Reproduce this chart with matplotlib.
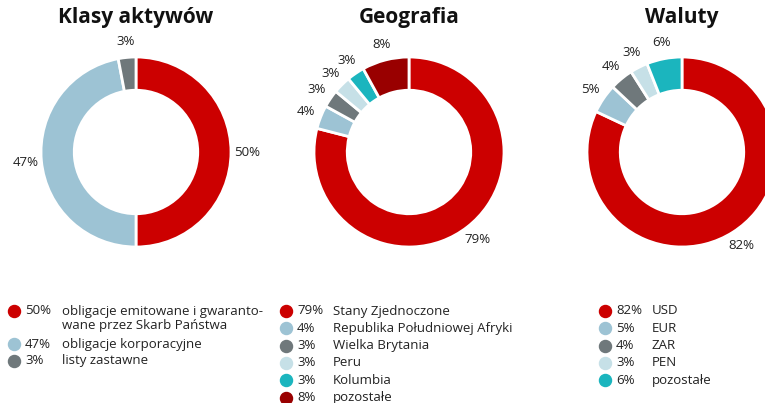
import matplotlib.pyplot as plt

plt.rcParams['font.family'] = ['Open Sans', 'DejaVu Sans']

W, H = 765, 403

# data
titles = ['Klasy aktywów', 'Geografia', 'Waluty']

klasy_vals = [50, 47, 3]
klasy_labels = ['obligacje emitowane i gwaranto-\nwane przez Skarb Państwa',
                'obligacje korporacyjne', 'listy zastawne']
klasy_colors = ['#cc0000', '#9dc3d4', '#6f787b']

geo_vals = [79, 4, 3, 3, 3, 8]
geo_labels = ['Stany Zjednoczone', 'Republika Południowej Afryki', 'Wielka Brytania',
              'Peru', 'Kolumbia', 'pozostałe']
geo_colors = ['#cc0000', '#9dc3d4', '#6f787b', '#c6e0e7', '#1bb5be', '#990000']

wal_vals = [82, 5, 4, 3, 6]
wal_labels = ['USD', 'EUR', 'ZAR', 'PEN', 'pozostałe']
wal_colors = ['#cc0000', '#9dc3d4', '#6f787b', '#c6e0e7', '#1bb5be']

charts = [(klasy_vals, klasy_labels, klasy_colors),
          (geo_vals, geo_labels, geo_colors),
          (wal_vals, wal_labels, wal_colors)]

centers_x = [136, 409, 682]
cy = 152
R = 95
legend_x = [14, 286, 605]
legend_top = 311

fig = plt.figure(figsize=(W / 100, H / 100), dpi=100)
over = fig.add_axes([0, 0, 1, 1])
over.set_xlim(0, W)
over.set_ylim(H, 0)
over.axis('off')

for i, (vals, labels, colors) in enumerate(charts):
    cx = centers_x[i]
    ax = fig.add_axes([(cx - R) / W, (H - cy - R) / H, 2 * R / W, 2 * R / H])
    ax.pie(vals, colors=colors, startangle=90, counterclock=False, radius=1,
           labels=[f'{v}%' for v in vals], labeldistance=1.17,
           textprops=dict(fontsize=9.5, color='#222222', ha='center', va='center'),
           wedgeprops=dict(width=0.35, edgecolor='white', linewidth=2))
    for t in ax.texts:
        t.set_ha('center')
    ax.set_xlim(-1, 1)
    ax.set_ylim(-1, 1)
    ax.set_aspect('equal')

    over.text(cx, 18, titles[i], ha='center', va='center', fontsize=15,
              fontweight='bold', color='#111111')

    lx = legend_x[i]
    step = 16.6 if i == 0 else 17.3
    y = legend_top
    pct_w = 37 if i == 0 else 36
    for v, lab, col in zip(vals, labels, colors):
        over.scatter(lx, y, s=75, color=col, zorder=3, clip_on=False)
        over.text(lx + 11, y, f'{v}%', ha='left', va='center', fontsize=9.5, color='#222222')
        over.text(lx + 11 + pct_w, y - 6.5, lab, ha='left', va='top', fontsize=9.5,
                  color='#222222', linespacing=1.2)
        y += step * (1 + lab.count('\n'))

fig.savefig('out.png', dpi=100)
